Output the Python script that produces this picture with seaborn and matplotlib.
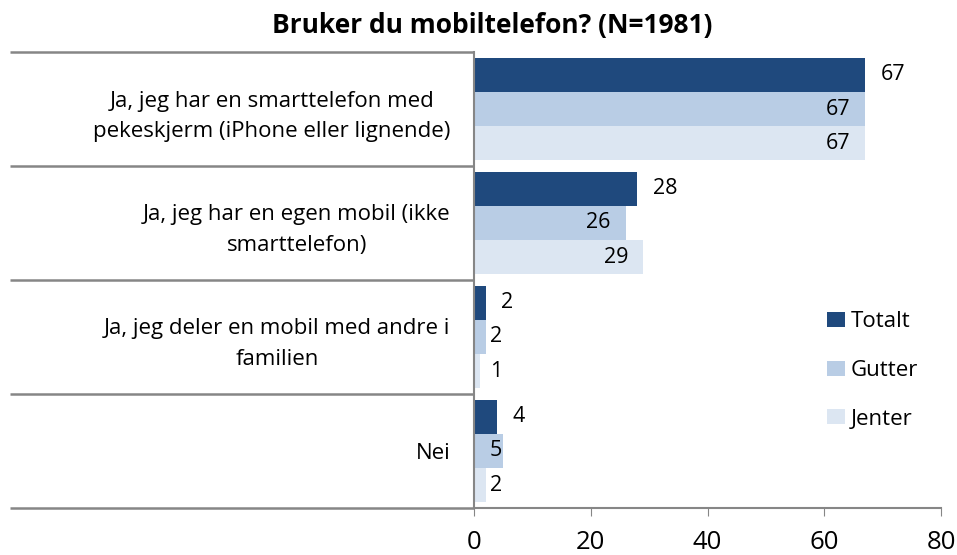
import pandas as pd
import matplotlib
matplotlib.use("Agg")
import matplotlib.pyplot as plt
import seaborn as sns

# Data lest av figuren
kategorier = [
    "Ja, jeg har en smarttelefon med\npekeskjerm (iPhone eller lignende)",
    "Ja, jeg har en egen mobil (ikke\nsmarttelefon)",
    "Ja, jeg deler en mobil med andre i\nfamilien",
    "Nei",
]
grupper = ["Totalt", "Gutter", "Jenter"]
totalt = [67, 28, 2, 4]
gutter = [67, 26, 2, 5]
jenter = [67, 29, 1, 2]
farger = ["#1F497D", "#B9CDE5", "#DCE6F2"]
x_ticks = [0, 20, 40, 60, 80]

rows = []
for g, verdier in zip(grupper, [totalt, gutter, jenter]):
    for k, v in zip(kategorier, verdier):
        rows.append({"kategori": k, "gruppe": g, "andel": v})
df = pd.DataFrame(rows)

sns.set_style("white")
plt.rcParams["font.family"] = ["Open Sans", "DejaVu Sans"]
plt.rcParams["text.color"] = "black"
plt.rcParams["xtick.color"] = "black"
plt.rcParams["ytick.color"] = "black"

fig = plt.figure(figsize=(9.57, 5.55), dpi=100)
ax = fig.add_axes([0.4953, 0.0847, 0.488, 0.8216])

sns.barplot(data=df, y="kategori", x="andel", hue="gruppe", orient="h",
            palette=farger, saturation=1, width=0.9, linewidth=0, ax=ax)

ax.set_xlim(0, 80)
ax.set_ylim(3.5, -0.5)
ax.set_xticks(x_ticks)
ax.set_xlabel("")
ax.set_ylabel("")
ax.tick_params(axis="x", labelsize=18.5, length=6, color="#868686", direction="out",
               bottom=True, pad=10, labelcolor="black")
ax.tick_params(axis="y", labelsize=16, length=0, pad=17, labelcolor="black")
for lab in ax.get_yticklabels():
    lab.set_multialignment("center")
    lab.set_linespacing(1.6)

for side in ["top", "right"]:
    ax.spines[side].set_visible(False)
for side in ["left", "bottom"]:
    ax.spines[side].set_color("#868686")
    ax.spines[side].set_linewidth(1.5)

# skillelinjer mellom kategoriene (strekker seg ut til venstre)
tr = ax.get_yaxis_transform()
for y in [-0.5, 0.5, 1.5, 2.5, 3.5]:
    ax.plot([-0.994, 0], [y, y], transform=tr, color="#868686", lw=1.8,
            clip_on=False, solid_capstyle="butt")

# verdietiketter
for i, cont in enumerate(ax.containers):
    for bar in cont:
        v = bar.get_width()
        yc = bar.get_y() + bar.get_height() / 2
        if i == 0:
            ax.text(v + 2.6, yc, f"{v:.0f}", ha="left", va="center", fontsize=15.5)
        else:
            ax.text(max(v - 2.6, 4.8), yc, f"{v:.0f}", ha="right", va="center",
                    fontsize=15.5)

leg = ax.legend(loc="upper left", bbox_to_anchor=(0.713, 0.475), frameon=False,
                fontsize=16, labelspacing=1.24, handlelength=0.81, handleheight=0.68,
                handletextpad=0.25)

fig.suptitle("Bruker du mobiltelefon? (N=1981)", x=0.514, y=0.978,
             fontsize=19, fontweight="bold")

fig.savefig("out.png", dpi=100)
